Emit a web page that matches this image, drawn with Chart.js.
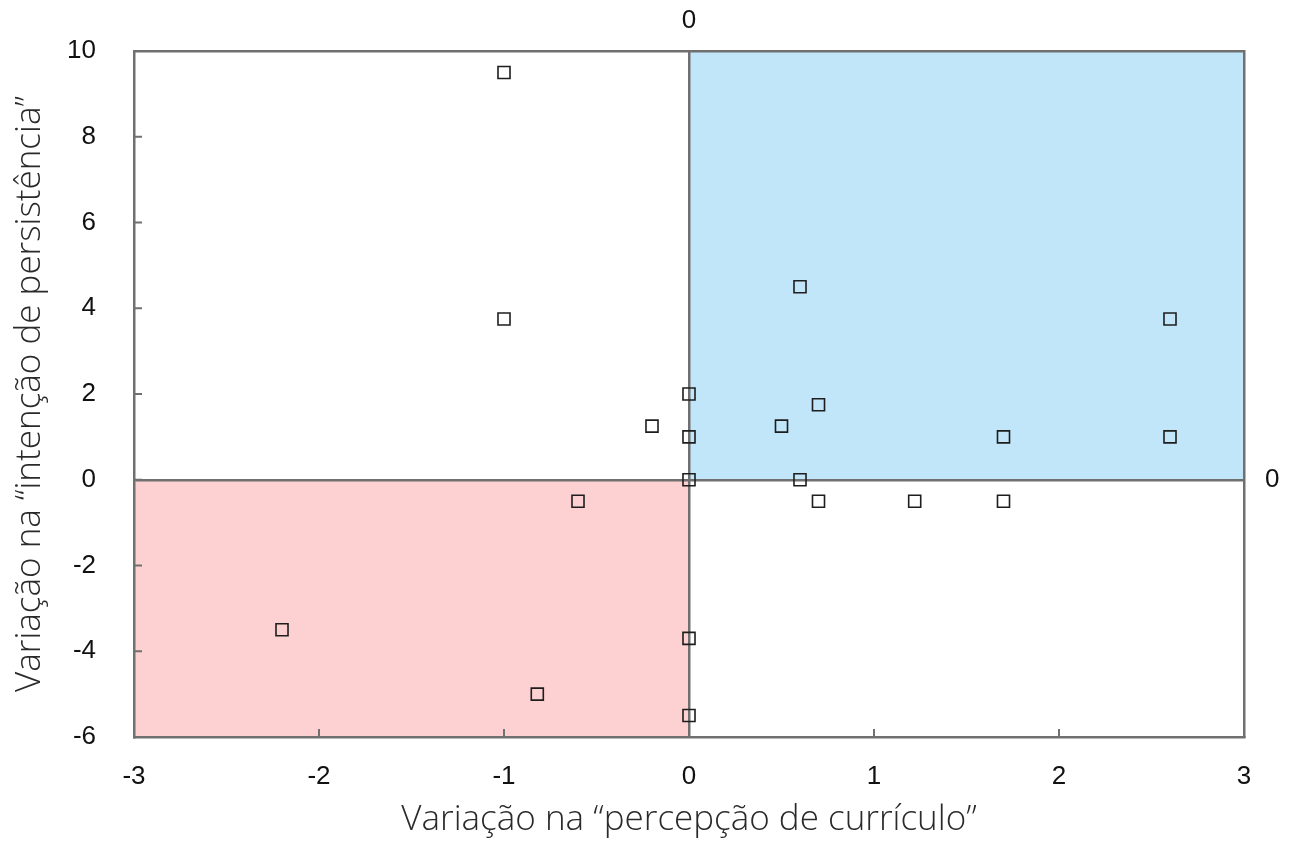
<!DOCTYPE html>
<html>
<head>
<meta charset="utf-8">
<script src="https://cdn.jsdelivr.net/npm/chart.js@4"></script>
<style>
  html, body { margin: 0; padding: 0; background: #fff; }
  #wrap { width: 1291px; height: 847px; }
</style>
</head>
<body>
<div id="wrap"><canvas id="my_chart" width="1291" height="847"></canvas></div>
<script>
// values
const x_values = [-1, -1, 0.6, 2.6, 0, -0.2, 0, 0.5, 0.7, 1.7, 2.6, 0, 0.6, 0.7, 1.22, 1.7, -0.6, -2.2, 0, -0.82, 0];
const y_values = [9.5, 3.75, 4.5, 3.75, 2, 1.25, 1, 1.25, 1.75, 1, 1, 0, 0, -0.5, -0.5, -0.5, -0.5, -3.5, -3.7, -5, -5.5];
const x_ticks = [-3, -2, -1, 0, 1, 2, 3];
const y_ticks = [-6, -4, -2, 0, 2, 4, 6, 8, 10];
const x_title = 'Variação na “percepção de currículo”';
const y_title = 'Variação na “intenção de persistência”';

const axis_gray = '#707070';
const tick_font = { family: 'Liberation Sans', size: 26 };
const title_font = { family: 'Open Sans', size: 35, weight: 300 };

const points = x_values.map((x, i) => ({ x: x, y: y_values[i] }));

// shaded quadrants, drawn through the scales
const quadrant_plugin = {
    id: 'quadrants',
    beforeDraw(chart) {
        const ctx = chart.ctx;
        const xs = chart.scales.x, ys = chart.scales.y;
        const fill = (x0, x1, y0, y1, color) => {
            const left = xs.getPixelForValue(x0), right = xs.getPixelForValue(x1);
            const top = ys.getPixelForValue(y1), bottom = ys.getPixelForValue(y0);
            ctx.save();
            ctx.fillStyle = color;
            ctx.fillRect(left, top, right - left, bottom - top);
            ctx.restore();
        };
        fill(0, 3, 0, 10, '#c1e5f9');
        fill(-3, 0, -6, 0, '#fdd0d1');
    },
    afterDatasetsDraw(chart) {
        // small inward tick marks on left and bottom axes
        const ctx = chart.ctx;
        const xs = chart.scales.x, ys = chart.scales.y;
        const area = chart.chartArea;
        ctx.save();
        ctx.strokeStyle = axis_gray;
        ctx.lineWidth = 2;
        ctx.beginPath();
        y_ticks.forEach(v => {
            const py = ys.getPixelForValue(v);
            ctx.moveTo(area.left, py);
            ctx.lineTo(area.left + 8, py);
        });
        x_ticks.forEach(v => {
            const px = xs.getPixelForValue(v);
            ctx.moveTo(px, area.bottom);
            ctx.lineTo(px, area.bottom - 8);
        });
        ctx.stroke();
        ctx.restore();
    }
};

const zero_line = ctx => (ctx.tick && ctx.tick.value === 0) ? axis_gray : 'rgba(0,0,0,0)';

const ctx = document.getElementById('my_chart').getContext('2d');
window.my_chart = new Chart(ctx, {
    type: 'scatter',
    data: {
        datasets: [{
            data: points,
            pointStyle: 'rect',
            pointRadius: 8.5,
            pointHoverRadius: 8.5,
            pointBorderWidth: 1.6,
            pointBorderColor: '#1e1e1e',
            pointBackgroundColor: 'rgba(0,0,0,0)'
        }]
    },
    options: {
        responsive: false,
        animation: false,
        layout: { padding: 0 },
        plugins: {
            legend: { display: false },
            tooltip: { enabled: false }
        },
        scales: {
            x: {
                type: 'linear',
                position: 'bottom',
                min: -3, max: 3,
                afterBuildTicks: s => { s.ticks = x_ticks.map(v => ({ value: v })); },
                afterFit: s => { s.height = 110; s.paddingLeft = 0; s.paddingRight = 0; },
                border: { display: true, color: axis_gray, width: 2.5 },
                grid: { color: zero_line, lineWidth: 2.5, drawTicks: false },
                ticks: { color: '#111', font: tick_font, padding: 24, maxRotation: 0 },
                title: { display: true, text: x_title, color: '#2a2a2a', font: title_font, padding: { top: 4, bottom: 6 } }
            },
            x2: {
                type: 'linear',
                position: 'top',
                min: -3, max: 3,
                afterBuildTicks: s => { s.ticks = [{ value: 0 }]; },
                afterFit: s => { s.height = 51; s.paddingLeft = 0; s.paddingRight = 0; },
                border: { display: true, color: axis_gray, width: 2.5 },
                grid: { display: false, drawTicks: false },
                ticks: { color: '#111', font: tick_font, padding: 15 }
            },
            y: {
                type: 'linear',
                position: 'left',
                min: -6, max: 10,
                afterBuildTicks: s => { s.ticks = y_ticks.map(v => ({ value: v })); },
                afterFit: s => { s.width = 134; s.paddingTop = 0; s.paddingBottom = 0; },
                border: { display: true, color: axis_gray, width: 2.5 },
                grid: { color: zero_line, lineWidth: 2.5, drawTicks: false },
                ticks: { color: '#111', font: tick_font, padding: 38 },
                title: { display: true, text: y_title, color: '#2a2a2a', font: title_font, padding: { top: 9, bottom: 9 } }
            },
            y2: {
                type: 'linear',
                position: 'right',
                min: -6, max: 10,
                afterBuildTicks: s => { s.ticks = [{ value: 0 }]; },
                afterFit: s => { s.width = 47; s.paddingTop = 0; s.paddingBottom = 0; },
                border: { display: true, color: axis_gray, width: 2.5 },
                grid: { display: false, drawTicks: false },
                ticks: { color: '#111', font: tick_font, padding: 21 }
            }
        }
    },
    plugins: [quadrant_plugin]
});
</script>
</body>
</html>
